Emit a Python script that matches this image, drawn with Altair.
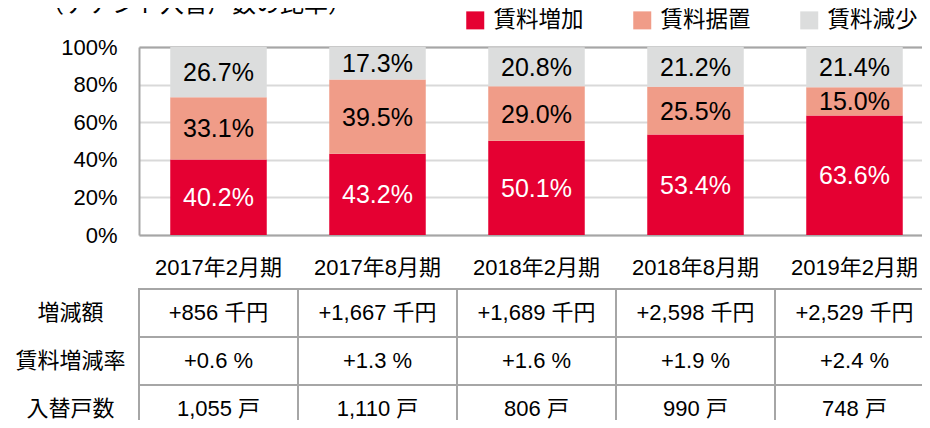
import altair as alt
import pandas as pd

FONT = "'Liberation Sans', Arial, 'Noto Sans CJK JP', sans-serif"

periods = ["2017年2月期", "2017年8月期", "2018年2月期", "2018年8月期", "2019年2月期"]
series_names = ["賃料増加", "賃料据置", "賃料減少"]
series_colors = ["#E50032", "#F09C88", "#DCDDDD"]
inc = [40.2, 43.2, 50.1, 53.4, 63.6]
flat = [33.1, 39.5, 29.0, 25.5, 15.0]
dec = [26.7, 17.3, 20.8, 21.2, 21.4]

row_labels = ["増減額", "賃料増減率", "入替戸数"]
amount = ["+856 千円", "+1,667 千円", "+1,689 千円", "+2,598 千円", "+2,529 千円"]
rate = ["+0.6 %", "+1.3 %", "+1.6 %", "+1.9 %", "+2.4 %"]
count = ["1,055 戸", "1,110 戸", "806 戸", "990 戸", "748 戸"]

rows = []
for s_i, (name, vals) in enumerate(zip(series_names, [inc, flat, dec])):
    for p, v in zip(periods, vals):
        rows.append({"period": p, "series": name, "ord": s_i, "value": v, "label": f"{v:.1f}%"})
df = pd.DataFrame(rows)

trows = []
for r, vals in zip(row_labels, [amount, rate, count]):
    for p, t in zip(periods, vals):
        trows.append({"period": p, "row": r, "text": t})
tdf = pd.DataFrame(trows)

BORDER = "#a6a6a6"
xscale = alt.Scale(domain=periods, range=[0, 795], paddingInner=0, paddingOuter=0)
tscale = alt.Scale(domain=row_labels, range=[242, 386], paddingInner=0, paddingOuter=0)

base = alt.Chart(df).transform_stack(
    stack="value", as_=["y0", "y1"], groupby=["period"],
    sort=[alt.SortField("ord", order="ascending")], offset="zero"
).transform_calculate(mid="(datum.y0 + datum.y1) / 2")

bars = base.mark_bar(width=alt.RelativeBandSize(0.607)).encode(
    x=alt.X("period:N", scale=xscale, sort=periods, title=None,
            axis=alt.Axis(orient="bottom", labelAngle=0, labelFontSize=22, labelFont=FONT,
                          labelColor="black", ticks=False, tickSize=0, domain=True,
                          domainColor=BORDER, domainWidth=2, labelPadding=32,
                          labelBaseline="middle", grid=False)),
    y=alt.Y("y0:Q", scale=alt.Scale(domain=[0, 100], nice=False), title=None,
            axis=alt.Axis(values=[0, 20, 40, 60, 80, 100], labelExpr="datum.value + '%'",
                          labelFontSize=22, labelFont=FONT, labelColor="black",
                          ticks=False, tickSize=0, domain=True, domainColor=BORDER,
                          domainWidth=2, labelPadding=22,
                          grid=True, gridColor="#d9d9d9", gridWidth=2)),
    y2="y1:Q",
    color=alt.Color("series:N", scale=alt.Scale(domain=series_names, range=series_colors),
                    legend=alt.Legend(orient="none", legendX=325, legendY=-38,
                                      direction="horizontal", title=None,
                                      symbolType="square", symbolSize=324,
                                      symbolStrokeWidth=0, labelFontSize=22.5,
                                      labelFont=FONT, labelColor="black",
                                      gridAlign="all", columnPadding=47, labelOffset=7)),
)

labels = base.mark_text(fontSize=25, font=FONT, baseline="middle", dy=1).encode(
    x=alt.X("period:N", scale=xscale, sort=periods, title=None,
            axis=alt.Axis(orient="top", labels=False, ticks=False, domain=True,
                          domainColor=BORDER, domainWidth=2, grid=False, title=None)),
    y=alt.Y("mid:Q", scale=alt.Scale(domain=[0, 100], nice=False), axis=None),
    text="label:N",
    color=alt.condition(alt.datum.series == "賃料増加", alt.value("white"), alt.value("black")),
)

cells = alt.Chart(tdf).mark_rect(fill="white", stroke=BORDER, strokeWidth=2).encode(
    x=alt.X("period:N", scale=xscale, sort=periods, axis=None),
    y=alt.Y("row:N", scale=tscale, sort=row_labels, title=None,
            axis=alt.Axis(orient="left", labelFontSize=22, labelFont=FONT, labelColor="black",
                          ticks=False, tickSize=0, domain=False, grid=False,
                          labelAlign="center", labelPadding=69, labelBaseline="middle")),
)

cell_text = alt.Chart(tdf).mark_text(fontSize=22, font=FONT, baseline="middle", color="black", dy=0).encode(
    x=alt.X("period:N", scale=xscale, sort=periods, axis=None),
    y=alt.Y("row:N", scale=tscale, sort=row_labels, axis=None),
    text="text:N",
)

chart = alt.layer(bars, labels, cells, cell_text).resolve_scale(
    y="independent"
).properties(
    width=783, height=188,
    autosize=alt.AutoSizeParams(type="none"),
    padding={"left": 131, "top": 39, "right": 0, "bottom": 185},
    title=alt.TitleParams("（テナント入替戸数の比率）", anchor="start", frame="group",
                          fontSize=24, font=FONT, fontWeight="normal", color="black",
                          baseline="alphabetic", dx=-99, dy=27, offset=0),
).configure_view(stroke=None)

chart.save("out.html", embed_options={"renderer": "svg", "actions": False})
